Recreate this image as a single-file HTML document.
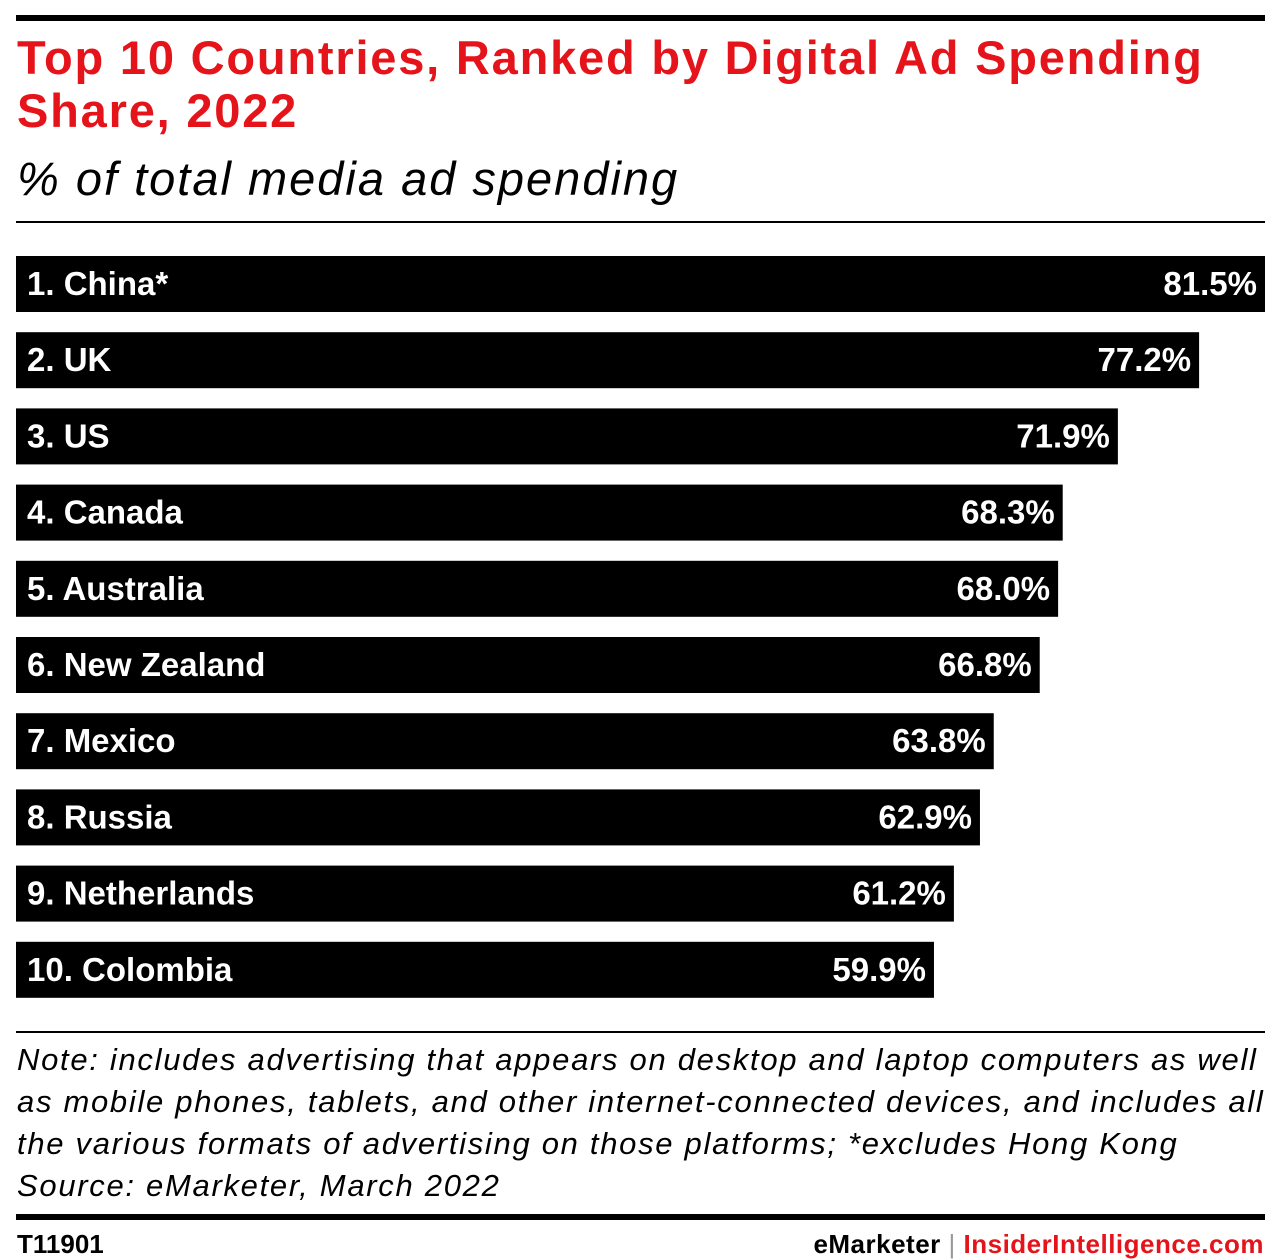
<!DOCTYPE html>
<html><head><meta charset="utf-8"><style>
body{margin:0;width:1280px;height:1260px;background:#fff;font-family:"Liberation Sans",sans-serif;position:relative;overflow:hidden}
.abs{position:absolute}
</style></head><body>
<div class="abs" style="left:16px;top:15px;width:1249px;height:6px;background:#000"></div>
<div class="abs" style="left:17px;top:31px;width:1260px;font-size:47px;font-weight:bold;color:#e5141b;line-height:53px;letter-spacing:1.8px;white-space:nowrap">Top 10 Countries, Ranked by Digital Ad Spending<br>Share, 2022</div>
<div class="abs" style="left:17px;top:150px;font-size:47px;font-style:italic;line-height:58px;letter-spacing:2px">% of total media ad spending</div>
<div class="abs" style="left:16px;top:221px;width:1249px;height:2px;background:#000"></div>
<svg class="abs" style="left:0;top:0" width="1280" height="1260" id="chart"></svg>
<div class="abs" style="left:16px;top:1031px;width:1249px;height:2px;background:#000"></div>
<div class="abs" style="left:17px;top:1039px;width:1260px;font-size:31px;font-style:italic;line-height:42px;letter-spacing:1.7px;white-space:nowrap">Note: includes advertising that appears on desktop and laptop computers as well<br>as mobile phones, tablets, and other internet-connected devices, and includes all<br>the various formats of advertising on those platforms; *excludes Hong Kong<br>Source: eMarketer, March 2022</div>
<div class="abs" style="left:16px;top:1214px;width:1249px;height:6px;background:#000"></div>
<div class="abs" style="left:17px;top:1229px;font-size:26px;font-weight:bold">T11901</div>
<div class="abs" style="right:16px;top:1229px;font-size:26px;font-weight:bold;letter-spacing:0.5px">eMarketer <span style="color:#999;font-weight:normal">|</span> <span style="color:#e5141b">InsiderIntelligence.com</span></div>
<script>
const categories=["1. China*","2. UK","3. US","4. Canada","5. Australia","6. New Zealand","7. Mexico","8. Russia","9. Netherlands","10. Colombia"];
const values=[81.5,77.2,71.9,68.3,68.0,66.8,63.8,62.9,61.2,59.9];
const valueLabels=["81.5%","77.2%","71.9%","68.3%","68.0%","66.8%","63.8%","62.9%","61.2%","59.9%"];
const svg=document.getElementById('chart');
const NS='http://www.w3.org/2000/svg';
const x0=16,xMax=81.5,wFull=1249;
function xs(v){return v/xMax*wFull;}
function ys(i){return 256+i*76.2;}
categories.forEach((c,i)=>{
 const y=ys(i),w=xs(values[i]);
 const r=document.createElementNS(NS,'rect');
 
 
 r.setAttribute('x',x0);r.setAttribute('y',y);r.setAttribute('width',w);r.setAttribute('height',56);r.setAttribute('fill','#000');
 svg.appendChild(r);
 const t=document.createElementNS(NS,'text');
 
 
 t.setAttribute('x',27);t.setAttribute('y',y+39);t.setAttribute('fill','#fff');t.setAttribute('font-size','33');t.setAttribute('font-weight','bold');t.setAttribute('font-family','Liberation Sans, sans-serif');
 t.textContent=c;svg.appendChild(t);
 const v=document.createElementNS(NS,'text');
 
 
 v.setAttribute('x',x0+w-8);v.setAttribute('y',y+39);v.setAttribute('text-anchor','end');v.setAttribute('fill','#fff');v.setAttribute('font-size','33');v.setAttribute('font-weight','bold');v.setAttribute('font-family','Liberation Sans, sans-serif');
 v.textContent=valueLabels[i];svg.appendChild(v);
});
</script>
</body></html>
